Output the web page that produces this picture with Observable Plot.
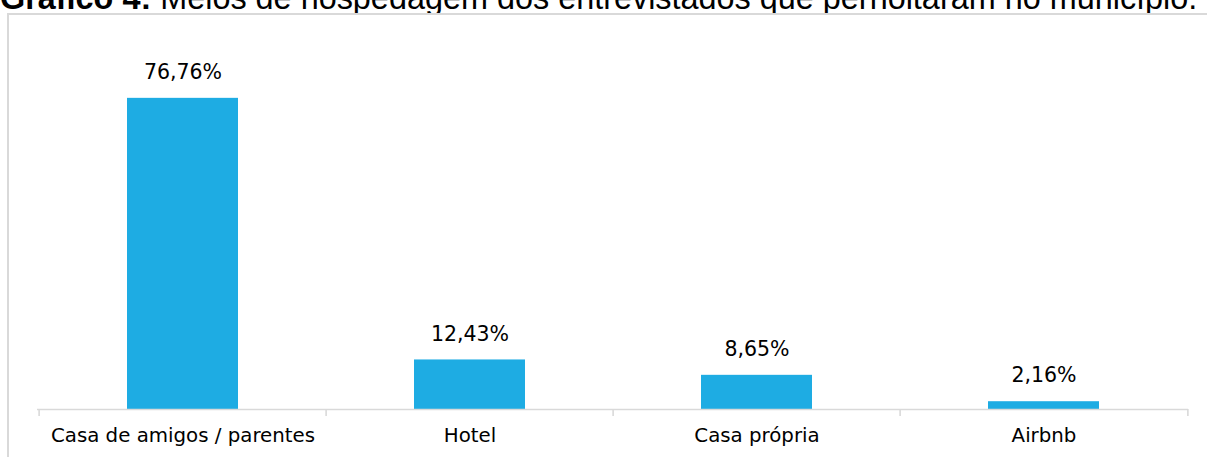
<!DOCTYPE html>
<html>
<head>
<meta charset="utf-8">
<script src="https://cdn.jsdelivr.net/npm/d3@7"></script>
<script src="https://cdn.jsdelivr.net/npm/@observablehq/plot@0.6"></script>
<style>
  html, body { margin: 0; padding: 0; background: #fff; overflow: hidden; }
  #wrap { position: relative; width: 1207px; height: 457px; overflow: hidden; }
  #title { position: absolute; left: 0; top: -18px; font-family: "Liberation Sans", Arial, sans-serif; font-size: 32.4px; line-height: 32px; white-space: nowrap; color: #000; }
  #frame { position: absolute; left: 7px; top: 13px; width: 1300px; height: 600px; border-left: 2px solid #d9d9d9; border-top: 2px solid #d9d9d9; background: #fff; }
  #chart { position: absolute; left: 0; top: 0; }
</style>
</head>
<body>
<div id="wrap">
  <div id="title"><b>Gráfico 4:</b> Meios de hospedagem dos entrevistados que pernoitaram no município.</div>
  <div id="frame"></div>
  <div id="chart"></div>
</div>
<script>
const categories = ["Casa de amigos / parentes", "Hotel", "Casa própria", "Airbnb"];
const values = [76.76, 12.43, 8.65, 2.16];
const valueLabels = ["76,76%", "12,43%", "8,65%", "2,16%"];

const data = categories.map((c, i) => ({category: c, value: values[i], label: valueLabels[i]}));

const W = 1207, H = 457;
const mL = 37, mR = 19, mT = 44, mB = 47;
const pI = 0.614, pO = pI / 2;
const step = (W - mL - mR) / (categories.length - pI + 2 * pO);
const grid = "#d9d9d9";
const font = "'DejaVu Sans', sans-serif";

const chart = Plot.plot({
  width: W,
  height: H,
  marginLeft: mL,
  marginRight: mR,
  marginTop: mT,
  marginBottom: mB,
  style: {background: "transparent", fontFamily: font, fontSize: "20px", color: "#000"},
  x: {domain: categories, paddingInner: pI, paddingOuter: pO, axis: null},
  y: {domain: [0, 90], axis: null},
  marks: [
    Plot.barY(data, {x: "category", y: "value", fill: "#1eace3"}),
    Plot.ruleY([0], {stroke: grid, strokeWidth: 1.6, dy: -1}),
    Plot.ruleX(data, {x: "category", y1: 0, y2: 0, dx: -step / 2, insetTop: -1, insetBottom: -6, stroke: grid, strokeWidth: 1.6}),
    Plot.ruleX([data[data.length - 1]], {x: "category", y1: 0, y2: 0, dx: step / 2, insetTop: -1, insetBottom: -6, stroke: grid, strokeWidth: 1.6}),
    Plot.text(data, {x: "category", y: "value", text: "label", dy: -26, lineAnchor: "middle", textAnchor: "middle", fontSize: 20.5, fill: "#000"}),
    Plot.text(data, {x: "category", y: 0, text: "category", dy: 25, lineAnchor: "middle", textAnchor: "middle", fontSize: 19.8, fill: "#000"})
  ]
});
document.getElementById("chart").appendChild(chart);
</script>
</body>
</html>
